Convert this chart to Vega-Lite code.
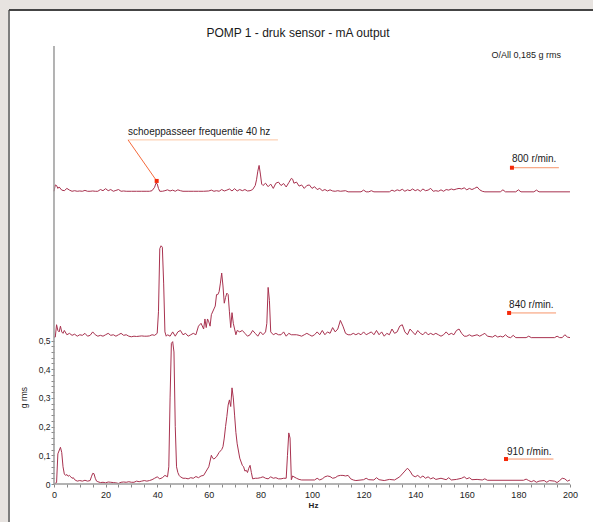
{
  "$schema": "https://vega.github.io/schema/vega-lite/v6.json",
  "width": 584,
  "height": 512,
  "autosize": "none",
  "padding": {"left": 9, "top": 10, "right": 0, "bottom": 0},
  "background": "#e7e3e0",
  "config": {
    "view": {"fill": "white", "stroke": null},
    "font": "Liberation Sans",
    "axis": {"labelOverlap": false}
  },
  "title": {
    "text": "POMP 1 - druk sensor - mA output",
    "font": "Liberation Sans",
    "fontSize": 12,
    "fontWeight": "normal",
    "color": "#1a1a1a",
    "anchor": "middle",
    "frame": "group",
    "baseline": "alphabetic",
    "offset": -40,
    "dx": -3
  },
  "datasets": {
    "spec": [
      {"f":0,"g":1.02,"s":"800"},{"f":0.5,"g":1.042,"s":"800"},{"f":1,"g":1.04,"s":"800"},{"f":1.5,"g":1.03,"s":"800"},{"f":2,"g":1.035,"s":"800"},{"f":3,"g":1.024,"s":"800"},{"f":4,"g":1.022,"s":"800"},{"f":5,"g":1.03,"s":"800"},{"f":6,"g":1.024,"s":"800"},{"f":7,"g":1.02,"s":"800"},{"f":8,"g":1.022,"s":"800"},{"f":9,"g":1.02,"s":"800"},{"f":10,"g":1.021,"s":"800"},{"f":11,"g":1.02,"s":"800"},{"f":12,"g":1.023,"s":"800"},{"f":13,"g":1.02,"s":"800"},{"f":14,"g":1.02,"s":"800"},{"f":15,"g":1.021,"s":"800"},{"f":16,"g":1.02,"s":"800"},{"f":17,"g":1.02,"s":"800"},{"f":18,"g":1.026,"s":"800"},{"f":19,"g":1.022,"s":"800"},{"f":20,"g":1.029,"s":"800"},{"f":21,"g":1.022,"s":"800"},{"f":22,"g":1.026,"s":"800"},{"f":23,"g":1.02,"s":"800"},{"f":24,"g":1.023,"s":"800"},{"f":25,"g":1.026,"s":"800"},{"f":26,"g":1.02,"s":"800"},{"f":27,"g":1.021,"s":"800"},{"f":28,"g":1.02,"s":"800"},{"f":30,"g":1.02,"s":"800"},{"f":32,"g":1.02,"s":"800"},{"f":34,"g":1.02,"s":"800"},{"f":36,"g":1.02,"s":"800"},{"f":37,"g":1.02,"s":"800"},{"f":38,"g":1.022,"s":"800"},{"f":39,"g":1.034,"s":"800"},{"f":39.5,"g":1.048,"s":"800"},{"f":40,"g":1.046,"s":"800"},{"f":40.5,"g":1.03,"s":"800"},{"f":41,"g":1.02,"s":"800"},{"f":42,"g":1.02,"s":"800"},{"f":43,"g":1.022,"s":"800"},{"f":44,"g":1.025,"s":"800"},{"f":45,"g":1.021,"s":"800"},{"f":46,"g":1.024,"s":"800"},{"f":47,"g":1.02,"s":"800"},{"f":48,"g":1.025,"s":"800"},{"f":49,"g":1.022,"s":"800"},{"f":50,"g":1.02,"s":"800"},{"f":52,"g":1.02,"s":"800"},{"f":54,"g":1.02,"s":"800"},{"f":56,"g":1.02,"s":"800"},{"f":58,"g":1.02,"s":"800"},{"f":60,"g":1.021,"s":"800"},{"f":61,"g":1.024,"s":"800"},{"f":62,"g":1.02,"s":"800"},{"f":63,"g":1.022,"s":"800"},{"f":64,"g":1.02,"s":"800"},{"f":65,"g":1.026,"s":"800"},{"f":66,"g":1.021,"s":"800"},{"f":67,"g":1.024,"s":"800"},{"f":68,"g":1.028,"s":"800"},{"f":69,"g":1.021,"s":"800"},{"f":70,"g":1.029,"s":"800"},{"f":71,"g":1.021,"s":"800"},{"f":72,"g":1.026,"s":"800"},{"f":73,"g":1.022,"s":"800"},{"f":74,"g":1.026,"s":"800"},{"f":75,"g":1.021,"s":"800"},{"f":76,"g":1.022,"s":"800"},{"f":77,"g":1.026,"s":"800"},{"f":78,"g":1.04,"s":"800"},{"f":78.5,"g":1.06,"s":"800"},{"f":79,"g":1.09,"s":"800"},{"f":79.5,"g":1.11,"s":"800"},{"f":80,"g":1.08,"s":"800"},{"f":80.5,"g":1.045,"s":"800"},{"f":81,"g":1.04,"s":"800"},{"f":82,"g":1.048,"s":"800"},{"f":83,"g":1.036,"s":"800"},{"f":84,"g":1.045,"s":"800"},{"f":85,"g":1.03,"s":"800"},{"f":86,"g":1.048,"s":"800"},{"f":87,"g":1.052,"s":"800"},{"f":88,"g":1.04,"s":"800"},{"f":89,"g":1.047,"s":"800"},{"f":90,"g":1.035,"s":"800"},{"f":91,"g":1.05,"s":"800"},{"f":92,"g":1.065,"s":"800"},{"f":92.5,"g":1.062,"s":"800"},{"f":93,"g":1.048,"s":"800"},{"f":94,"g":1.052,"s":"800"},{"f":95,"g":1.038,"s":"800"},{"f":96,"g":1.042,"s":"800"},{"f":97,"g":1.03,"s":"800"},{"f":98,"g":1.04,"s":"800"},{"f":99,"g":1.042,"s":"800"},{"f":100,"g":1.03,"s":"800"},{"f":101,"g":1.036,"s":"800"},{"f":102,"g":1.026,"s":"800"},{"f":103,"g":1.03,"s":"800"},{"f":104,"g":1.022,"s":"800"},{"f":105,"g":1.026,"s":"800"},{"f":106,"g":1.021,"s":"800"},{"f":107,"g":1.025,"s":"800"},{"f":108,"g":1.021,"s":"800"},{"f":109,"g":1.02,"s":"800"},{"f":110,"g":1.022,"s":"800"},{"f":111,"g":1.02,"s":"800"},{"f":113,"g":1.022,"s":"800"},{"f":114,"g":1.018,"s":"800"},{"f":119,"g":1.018,"s":"800"},{"f":120,"g":1.024,"s":"800"},{"f":121,"g":1.018,"s":"800"},{"f":122,"g":1.018,"s":"800"},{"f":123,"g":1.022,"s":"800"},{"f":124,"g":1.018,"s":"800"},{"f":130,"g":1.018,"s":"800"},{"f":131,"g":1.024,"s":"800"},{"f":132,"g":1.02,"s":"800"},{"f":133,"g":1.025,"s":"800"},{"f":134,"g":1.022,"s":"800"},{"f":135,"g":1.027,"s":"800"},{"f":136,"g":1.02,"s":"800"},{"f":137,"g":1.025,"s":"800"},{"f":138,"g":1.022,"s":"800"},{"f":139,"g":1.028,"s":"800"},{"f":140,"g":1.022,"s":"800"},{"f":141,"g":1.026,"s":"800"},{"f":142,"g":1.02,"s":"800"},{"f":143,"g":1.028,"s":"800"},{"f":144,"g":1.022,"s":"800"},{"f":145,"g":1.024,"s":"800"},{"f":146,"g":1.03,"s":"800"},{"f":147,"g":1.02,"s":"800"},{"f":148,"g":1.022,"s":"800"},{"f":149,"g":1.02,"s":"800"},{"f":150,"g":1.025,"s":"800"},{"f":151,"g":1.02,"s":"800"},{"f":152,"g":1.026,"s":"800"},{"f":153,"g":1.024,"s":"800"},{"f":154,"g":1.028,"s":"800"},{"f":155,"g":1.025,"s":"800"},{"f":156,"g":1.028,"s":"800"},{"f":157,"g":1.03,"s":"800"},{"f":158,"g":1.028,"s":"800"},{"f":159,"g":1.032,"s":"800"},{"f":160,"g":1.025,"s":"800"},{"f":161,"g":1.03,"s":"800"},{"f":162,"g":1.026,"s":"800"},{"f":163,"g":1.03,"s":"800"},{"f":164,"g":1.035,"s":"800"},{"f":165,"g":1.025,"s":"800"},{"f":166,"g":1.02,"s":"800"},{"f":167,"g":1.018,"s":"800"},{"f":173,"g":1.018,"s":"800"},{"f":174,"g":1.025,"s":"800"},{"f":175,"g":1.018,"s":"800"},{"f":179,"g":1.018,"s":"800"},{"f":180,"g":1.025,"s":"800"},{"f":181,"g":1.018,"s":"800"},{"f":186,"g":1.018,"s":"800"},{"f":187,"g":1.024,"s":"800"},{"f":188,"g":1.018,"s":"800"},{"f":200,"g":1.018,"s":"800"},

      {"f":0,"g":0.512,"s":"840"},{"f":0.5,"g":0.512,"s":"840"},{"f":1,"g":0.555,"s":"840"},{"f":1.5,"g":0.535,"s":"840"},{"f":2,"g":0.53,"s":"840"},{"f":2.5,"g":0.55,"s":"840"},{"f":3,"g":0.53,"s":"840"},{"f":3.5,"g":0.525,"s":"840"},{"f":4,"g":0.535,"s":"840"},{"f":5,"g":0.52,"s":"840"},{"f":6,"g":0.525,"s":"840"},{"f":7,"g":0.518,"s":"840"},{"f":8,"g":0.522,"s":"840"},{"f":9,"g":0.515,"s":"840"},{"f":10,"g":0.52,"s":"840"},{"f":11,"g":0.518,"s":"840"},{"f":12,"g":0.525,"s":"840"},{"f":13,"g":0.515,"s":"840"},{"f":14,"g":0.518,"s":"840"},{"f":15,"g":0.53,"s":"840"},{"f":16,"g":0.52,"s":"840"},{"f":17,"g":0.515,"s":"840"},{"f":18,"g":0.518,"s":"840"},{"f":19,"g":0.515,"s":"840"},{"f":20,"g":0.52,"s":"840"},{"f":21,"g":0.525,"s":"840"},{"f":22,"g":0.518,"s":"840"},{"f":23,"g":0.52,"s":"840"},{"f":24,"g":0.515,"s":"840"},{"f":25,"g":0.52,"s":"840"},{"f":26,"g":0.525,"s":"840"},{"f":27,"g":0.518,"s":"840"},{"f":28,"g":0.52,"s":"840"},{"f":29,"g":0.515,"s":"840"},{"f":30,"g":0.513,"s":"840"},{"f":31,"g":0.515,"s":"840"},{"f":32,"g":0.514,"s":"840"},{"f":33,"g":0.515,"s":"840"},{"f":34,"g":0.516,"s":"840"},{"f":35,"g":0.515,"s":"840"},{"f":36,"g":0.515,"s":"840"},{"f":37,"g":0.516,"s":"840"},{"f":38,"g":0.52,"s":"840"},{"f":39,"g":0.518,"s":"840"},{"f":40,"g":0.525,"s":"840"},{"f":40.5,"g":0.6,"s":"840"},{"f":41,"g":0.82,"s":"840"},{"f":41.5,"g":0.83,"s":"840"},{"f":42,"g":0.825,"s":"840"},{"f":42.5,"g":0.7,"s":"840"},{"f":43,"g":0.53,"s":"840"},{"f":43.5,"g":0.515,"s":"840"},{"f":44,"g":0.52,"s":"840"},{"f":45,"g":0.515,"s":"840"},{"f":46,"g":0.53,"s":"840"},{"f":47,"g":0.515,"s":"840"},{"f":48,"g":0.53,"s":"840"},{"f":49,"g":0.535,"s":"840"},{"f":50,"g":0.52,"s":"840"},{"f":51,"g":0.525,"s":"840"},{"f":52,"g":0.515,"s":"840"},{"f":53,"g":0.52,"s":"840"},{"f":54,"g":0.525,"s":"840"},{"f":55,"g":0.52,"s":"840"},{"f":56,"g":0.55,"s":"840"},{"f":57,"g":0.56,"s":"840"},{"f":58,"g":0.54,"s":"840"},{"f":58.5,"g":0.575,"s":"840"},{"f":59,"g":0.545,"s":"840"},{"f":59.5,"g":0.575,"s":"840"},{"f":60,"g":0.565,"s":"840"},{"f":60.5,"g":0.55,"s":"840"},{"f":61,"g":0.59,"s":"840"},{"f":62,"g":0.61,"s":"840"},{"f":62.5,"g":0.62,"s":"840"},{"f":63,"g":0.66,"s":"840"},{"f":63.5,"g":0.66,"s":"840"},{"f":64,"g":0.67,"s":"840"},{"f":64.5,"g":0.7,"s":"840"},{"f":65,"g":0.735,"s":"840"},{"f":65.5,"g":0.69,"s":"840"},{"f":66,"g":0.63,"s":"840"},{"f":66.5,"g":0.65,"s":"840"},{"f":67,"g":0.665,"s":"840"},{"f":67.5,"g":0.66,"s":"840"},{"f":68,"g":0.6,"s":"840"},{"f":68.5,"g":0.545,"s":"840"},{"f":69,"g":0.597,"s":"840"},{"f":69.5,"g":0.56,"s":"840"},{"f":70,"g":0.54,"s":"840"},{"f":70.5,"g":0.52,"s":"840"},{"f":71,"g":0.535,"s":"840"},{"f":72,"g":0.53,"s":"840"},{"f":73,"g":0.535,"s":"840"},{"f":74,"g":0.525,"s":"840"},{"f":75,"g":0.515,"s":"840"},{"f":76,"g":0.52,"s":"840"},{"f":77,"g":0.535,"s":"840"},{"f":78,"g":0.525,"s":"840"},{"f":79,"g":0.515,"s":"840"},{"f":80,"g":0.53,"s":"840"},{"f":81,"g":0.52,"s":"840"},{"f":82,"g":0.53,"s":"840"},{"f":82.5,"g":0.56,"s":"840"},{"f":83,"g":0.685,"s":"840"},{"f":83.5,"g":0.64,"s":"840"},{"f":84,"g":0.53,"s":"840"},{"f":85,"g":0.52,"s":"840"},{"f":86,"g":0.525,"s":"840"},{"f":87,"g":0.52,"s":"840"},{"f":88,"g":0.52,"s":"840"},{"f":89,"g":0.53,"s":"840"},{"f":90,"g":0.515,"s":"840"},{"f":91,"g":0.525,"s":"840"},{"f":92,"g":0.52,"s":"840"},{"f":93,"g":0.52,"s":"840"},{"f":94,"g":0.52,"s":"840"},{"f":95,"g":0.518,"s":"840"},{"f":96,"g":0.515,"s":"840"},{"f":97,"g":0.52,"s":"840"},{"f":98,"g":0.525,"s":"840"},{"f":99,"g":0.52,"s":"840"},{"f":100,"g":0.515,"s":"840"},{"f":101,"g":0.52,"s":"840"},{"f":102,"g":0.53,"s":"840"},{"f":103,"g":0.52,"s":"840"},{"f":104,"g":0.535,"s":"840"},{"f":105,"g":0.52,"s":"840"},{"f":106,"g":0.53,"s":"840"},{"f":107,"g":0.525,"s":"840"},{"f":108,"g":0.545,"s":"840"},{"f":109,"g":0.53,"s":"840"},{"f":110,"g":0.54,"s":"840"},{"f":111,"g":0.57,"s":"840"},{"f":112,"g":0.55,"s":"840"},{"f":113,"g":0.525,"s":"840"},{"f":114,"g":0.52,"s":"840"},{"f":115,"g":0.52,"s":"840"},{"f":116,"g":0.525,"s":"840"},{"f":117,"g":0.52,"s":"840"},{"f":118,"g":0.525,"s":"840"},{"f":119,"g":0.52,"s":"840"},{"f":120,"g":0.53,"s":"840"},{"f":121,"g":0.52,"s":"840"},{"f":122,"g":0.525,"s":"840"},{"f":123,"g":0.53,"s":"840"},{"f":124,"g":0.52,"s":"840"},{"f":125,"g":0.535,"s":"840"},{"f":126,"g":0.52,"s":"840"},{"f":127,"g":0.53,"s":"840"},{"f":128,"g":0.515,"s":"840"},{"f":129,"g":0.525,"s":"840"},{"f":130,"g":0.52,"s":"840"},{"f":131,"g":0.54,"s":"840"},{"f":132,"g":0.525,"s":"840"},{"f":133,"g":0.53,"s":"840"},{"f":134,"g":0.55,"s":"840"},{"f":135,"g":0.555,"s":"840"},{"f":136,"g":0.53,"s":"840"},{"f":137,"g":0.52,"s":"840"},{"f":138,"g":0.54,"s":"840"},{"f":139,"g":0.53,"s":"840"},{"f":140,"g":0.52,"s":"840"},{"f":141,"g":0.535,"s":"840"},{"f":142,"g":0.525,"s":"840"},{"f":143,"g":0.52,"s":"840"},{"f":144,"g":0.53,"s":"840"},{"f":145,"g":0.52,"s":"840"},{"f":146,"g":0.525,"s":"840"},{"f":147,"g":0.52,"s":"840"},{"f":148,"g":0.525,"s":"840"},{"f":149,"g":0.52,"s":"840"},{"f":150,"g":0.515,"s":"840"},{"f":151,"g":0.52,"s":"840"},{"f":152,"g":0.53,"s":"840"},{"f":153,"g":0.52,"s":"840"},{"f":154,"g":0.525,"s":"840"},{"f":155,"g":0.52,"s":"840"},{"f":156,"g":0.535,"s":"840"},{"f":157,"g":0.54,"s":"840"},{"f":158,"g":0.525,"s":"840"},{"f":159,"g":0.515,"s":"840"},{"f":160,"g":0.515,"s":"840"},{"f":161,"g":0.52,"s":"840"},{"f":162,"g":0.515,"s":"840"},{"f":164,"g":0.52,"s":"840"},{"f":165,"g":0.515,"s":"840"},{"f":166,"g":0.52,"s":"840"},{"f":167,"g":0.525,"s":"840"},{"f":168,"g":0.515,"s":"840"},{"f":170,"g":0.512,"s":"840"},{"f":171,"g":0.518,"s":"840"},{"f":172,"g":0.512,"s":"840"},{"f":173,"g":0.515,"s":"840"},{"f":174,"g":0.512,"s":"840"},{"f":175,"g":0.52,"s":"840"},{"f":176,"g":0.512,"s":"840"},{"f":177,"g":0.51,"s":"840"},{"f":178,"g":0.518,"s":"840"},{"f":179,"g":0.51,"s":"840"},{"f":183,"g":0.51,"s":"840"},{"f":184,"g":0.515,"s":"840"},{"f":185,"g":0.51,"s":"840"},{"f":194,"g":0.51,"s":"840"},{"f":195,"g":0.515,"s":"840"},{"f":196,"g":0.51,"s":"840"},{"f":197,"g":0.51,"s":"840"},{"f":198,"g":0.52,"s":"840"},{"f":199,"g":0.512,"s":"840"},{"f":200,"g":0.51,"s":"840"},

      {"f":0.4,"g":0.002,"s":"910"},{"f":1,"g":0.005,"s":"910"},{"f":1.5,"g":0.105,"s":"910"},{"f":2.5,"g":0.128,"s":"910"},{"f":3,"g":0.11,"s":"910"},{"f":3.5,"g":0.06,"s":"910"},{"f":4,"g":0.035,"s":"910"},{"f":4.5,"g":0.03,"s":"910"},{"f":5,"g":0.033,"s":"910"},{"f":5.5,"g":0.027,"s":"910"},{"f":6,"g":0.03,"s":"910"},{"f":6.5,"g":0.025,"s":"910"},{"f":7,"g":0.02,"s":"910"},{"f":7.5,"g":0.022,"s":"910"},{"f":8,"g":0.015,"s":"910"},{"f":9,"g":0.01,"s":"910"},{"f":10,"g":0.012,"s":"910"},{"f":11,"g":0.01,"s":"910"},{"f":12,"g":0.013,"s":"910"},{"f":13,"g":0.01,"s":"910"},{"f":14,"g":0.012,"s":"910"},{"f":14.5,"g":0.025,"s":"910"},{"f":15,"g":0.037,"s":"910"},{"f":15.5,"g":0.036,"s":"910"},{"f":16,"g":0.02,"s":"910"},{"f":16.5,"g":0.01,"s":"910"},{"f":17,"g":0.008,"s":"910"},{"f":18,"g":0.005,"s":"910"},{"f":19,"g":0.006,"s":"910"},{"f":20,"g":0.004,"s":"910"},{"f":21,"g":0.007,"s":"910"},{"f":22,"g":0.006,"s":"910"},{"f":23,"g":0.005,"s":"910"},{"f":24,"g":0.004,"s":"910"},{"f":25,"g":0.002,"s":"910"},{"f":26,"g":0.006,"s":"910"},{"f":27,"g":0.007,"s":"910"},{"f":28,"g":0.006,"s":"910"},{"f":29,"g":0.008,"s":"910"},{"f":30,"g":0.006,"s":"910"},{"f":31,"g":0.006,"s":"910"},{"f":32,"g":0.01,"s":"910"},{"f":33,"g":0.008,"s":"910"},{"f":34,"g":0.01,"s":"910"},{"f":35,"g":0.012,"s":"910"},{"f":36,"g":0.01,"s":"910"},{"f":37,"g":0.012,"s":"910"},{"f":38,"g":0.015,"s":"910"},{"f":39,"g":0.02,"s":"910"},{"f":40,"g":0.025,"s":"910"},{"f":41,"g":0.018,"s":"910"},{"f":42,"g":0.022,"s":"910"},{"f":43,"g":0.03,"s":"910"},{"f":44,"g":0.025,"s":"910"},{"f":44.5,"g":0.06,"s":"910"},{"f":45,"g":0.3,"s":"910"},{"f":45.5,"g":0.49,"s":"910"},{"f":46,"g":0.496,"s":"910"},{"f":46.5,"g":0.46,"s":"910"},{"f":47,"g":0.2,"s":"910"},{"f":47.5,"g":0.06,"s":"910"},{"f":48,"g":0.04,"s":"910"},{"f":48.5,"g":0.03,"s":"910"},{"f":49,"g":0.025,"s":"910"},{"f":50,"g":0.02,"s":"910"},{"f":51,"g":0.02,"s":"910"},{"f":52,"g":0.018,"s":"910"},{"f":53,"g":0.022,"s":"910"},{"f":54,"g":0.02,"s":"910"},{"f":55,"g":0.026,"s":"910"},{"f":56,"g":0.022,"s":"910"},{"f":57,"g":0.028,"s":"910"},{"f":58,"g":0.03,"s":"910"},{"f":59,"g":0.045,"s":"910"},{"f":60,"g":0.06,"s":"910"},{"f":60.5,"g":0.08,"s":"910"},{"f":61,"g":0.1,"s":"910"},{"f":61.5,"g":0.09,"s":"910"},{"f":62,"g":0.087,"s":"910"},{"f":63,"g":0.095,"s":"910"},{"f":64,"g":0.11,"s":"910"},{"f":65,"g":0.12,"s":"910"},{"f":65.5,"g":0.13,"s":"910"},{"f":66,"g":0.16,"s":"910"},{"f":66.5,"g":0.2,"s":"910"},{"f":67,"g":0.235,"s":"910"},{"f":67.5,"g":0.275,"s":"910"},{"f":68,"g":0.293,"s":"910"},{"f":68.5,"g":0.27,"s":"910"},{"f":69,"g":0.335,"s":"910"},{"f":69.5,"g":0.3,"s":"910"},{"f":70,"g":0.24,"s":"910"},{"f":70.5,"g":0.18,"s":"910"},{"f":71,"g":0.14,"s":"910"},{"f":72,"g":0.09,"s":"910"},{"f":73,"g":0.065,"s":"910"},{"f":73.5,"g":0.06,"s":"910"},{"f":74,"g":0.045,"s":"910"},{"f":74.5,"g":0.048,"s":"910"},{"f":75,"g":0.04,"s":"910"},{"f":75.5,"g":0.055,"s":"910"},{"f":76,"g":0.065,"s":"910"},{"f":76.5,"g":0.04,"s":"910"},{"f":77,"g":0.018,"s":"910"},{"f":78,"g":0.02,"s":"910"},{"f":79,"g":0.02,"s":"910"},{"f":80,"g":0.022,"s":"910"},{"f":81,"g":0.025,"s":"910"},{"f":82,"g":0.02,"s":"910"},{"f":83,"g":0.018,"s":"910"},{"f":84,"g":0.025,"s":"910"},{"f":85,"g":0.02,"s":"910"},{"f":86,"g":0.022,"s":"910"},{"f":87,"g":0.018,"s":"910"},{"f":88,"g":0.018,"s":"910"},{"f":89,"g":0.02,"s":"910"},{"f":90,"g":0.02,"s":"910"},{"f":90.5,"g":0.1,"s":"910"},{"f":91,"g":0.178,"s":"910"},{"f":91.5,"g":0.16,"s":"910"},{"f":92,"g":0.015,"s":"910"},{"f":92.5,"g":0.028,"s":"910"},{"f":93,"g":0.025,"s":"910"},{"f":94,"g":0.02,"s":"910"},{"f":95,"g":0.016,"s":"910"},{"f":96,"g":0.014,"s":"910"},{"f":101,"g":0.014,"s":"910"},{"f":102,"g":0.02,"s":"910"},{"f":103,"g":0.014,"s":"910"},{"f":104,"g":0.018,"s":"910"},{"f":105,"g":0.025,"s":"910"},{"f":106,"g":0.028,"s":"910"},{"f":107,"g":0.026,"s":"910"},{"f":108,"g":0.02,"s":"910"},{"f":109,"g":0.022,"s":"910"},{"f":110,"g":0.028,"s":"910"},{"f":111,"g":0.03,"s":"910"},{"f":112,"g":0.03,"s":"910"},{"f":113,"g":0.028,"s":"910"},{"f":114,"g":0.03,"s":"910"},{"f":115,"g":0.018,"s":"910"},{"f":116,"g":0.014,"s":"910"},{"f":117,"g":0.012,"s":"910"},{"f":120,"g":0.015,"s":"910"},{"f":121,"g":0.02,"s":"910"},{"f":122,"g":0.015,"s":"910"},{"f":124,"g":0.014,"s":"910"},{"f":125,"g":0.022,"s":"910"},{"f":126,"g":0.015,"s":"910"},{"f":128,"g":0.012,"s":"910"},{"f":130,"g":0.016,"s":"910"},{"f":132,"g":0.014,"s":"910"},{"f":134,"g":0.025,"s":"910"},{"f":135,"g":0.035,"s":"910"},{"f":136,"g":0.045,"s":"910"},{"f":137,"g":0.055,"s":"910"},{"f":138,"g":0.045,"s":"910"},{"f":139,"g":0.03,"s":"910"},{"f":140,"g":0.025,"s":"910"},{"f":141,"g":0.03,"s":"910"},{"f":142,"g":0.022,"s":"910"},{"f":143,"g":0.028,"s":"910"},{"f":144,"g":0.02,"s":"910"},{"f":145,"g":0.025,"s":"910"},{"f":146,"g":0.018,"s":"910"},{"f":147,"g":0.022,"s":"910"},{"f":148,"g":0.016,"s":"910"},{"f":150,"g":0.02,"s":"910"},{"f":152,"g":0.015,"s":"910"},{"f":153,"g":0.022,"s":"910"},{"f":154,"g":0.014,"s":"910"},{"f":156,"g":0.016,"s":"910"},{"f":158,"g":0.02,"s":"910"},{"f":159,"g":0.025,"s":"910"},{"f":160,"g":0.018,"s":"910"},{"f":161,"g":0.022,"s":"910"},{"f":162,"g":0.015,"s":"910"},{"f":164,"g":0.016,"s":"910"},{"f":166,"g":0.014,"s":"910"},{"f":167,"g":0.018,"s":"910"},{"f":168,"g":0.013,"s":"910"},{"f":182,"g":0.013,"s":"910"},{"f":183,"g":0.017,"s":"910"},{"f":184,"g":0.012,"s":"910"},{"f":185,"g":0.008,"s":"910"},{"f":186,"g":0.012,"s":"910"},{"f":187,"g":0.006,"s":"910"},{"f":188,"g":0.01,"s":"910"},{"f":190,"g":0.012,"s":"910"},{"f":191,"g":0.006,"s":"910"},{"f":192,"g":0.012,"s":"910"},{"f":194,"g":0.01,"s":"910"},{"f":195,"g":0.005,"s":"910"},{"f":196,"g":0.012,"s":"910"},{"f":197,"g":0.02,"s":"910"},{"f":198,"g":0.018,"s":"910"},{"f":199,"g":0.01,"s":"910"},{"f":200,"g":0.014,"s":"910"}
    ],
    "underline": [{"f":28.7,"f2":86.8,"g":1.199,"g2":1.199}],
    "leader": [{"f":28.7,"f2":39.8,"g":1.199,"g2":1.056}],
    "rpmlines": [
      {"f":177.5,"f2":195.7,"g":1.102,"g2":1.102},
      {"f":176.4,"f2":194.6,"g":0.596,"g2":0.596},
      {"f":175.2,"f2":193.6,"g":0.087,"g2":0.087}
    ],
    "markers": [
      {"f":39.8,"g":1.056},
      {"f":177.5,"g":1.102},
      {"f":176.4,"g":0.596},
      {"f":175.2,"g":0.087}
    ],
    "notes": [
      {"label":"schoeppasseer frequentie 40 hz","f":28.7,"g":1.226},
      {"label":"800 r/min.","f":177.5,"g":1.132},
      {"label":"840 r/min.","f":176.4,"g":0.624},
      {"label":"910 r/min.","f":175.6,"g":0.110}
    ],
    "overall": [
      {"label":"O/All 0,185 g rms","f":196.5,"g":1.495}
    ],
    "frameleft": [{"f":-17.44,"f2":-17.44,"g":-0.1324,"g2":1.6516}],
    "frametop": [{"f":-17.44,"f2":208.92,"g":1.6516,"g2":1.6516}],
    "axislines": [
      {"f":0,"f2":0,"g":0,"g2":1.526},
      {"f":0,"f2":200,"g":0,"g2":0}
    ]
  },
  "encoding": {
    "x": {
      "field": "f", "type": "quantitative",
      "scale": {"domain": [-17.44, 208.92], "nice": false, "zero": false},
      "axis": {
        "orient": "bottom", "offset": -38, "domain": false, "grid": false,
        "values": [0,5,10,15,20,25,30,35,40,45,50,55,60,65,70,75,80,85,90,95,100,105,110,115,120,125,130,135,140,145,150,155,160,165,170,175,180,185,190,195,200],
        "labelExpr": "datum.value % 20 == 0 ? datum.label : ''",
        "labelOverlap": false, "labelFlush": false, "labelBound": false,
        "tickSize": 3, "tickColor": "#8a8a8a", "tickWidth": 1,
        "labelFont": "Liberation Sans", "labelFontSize": 9, "labelColor": "#222", "labelPadding": 3,
        "title": "Hz", "titleFont": "Liberation Sans", "titleFontSize": 8, "titleFontWeight": "bold", "titleColor": "#222",
        "titleX": 304, "titleY": 21, "titleAlign": "center", "titleBaseline": "middle"
      }
    },
    "y": {
      "field": "g", "type": "quantitative",
      "scale": {"domain": [-0.1324, 1.6516], "nice": false, "zero": false},
      "axis": {
        "orient": "left", "offset": -45, "domain": false, "grid": false,
        "values": [0,0.02,0.04,0.06,0.08,0.1,0.12,0.14,0.16,0.18,0.2,0.22,0.24,0.26,0.28,0.3,0.32,0.34,0.36,0.38,0.4,0.42,0.44,0.46,0.48,0.5],
        "labelExpr": "datum.value == 0 ? '0' : (round(datum.value*50) % 5 == 0 ? replace(format(datum.value, '.1f'), '.', ',') : '')",
        "labelOverlap": false, "labelFlush": false, "labelBound": false,
        "tickSize": 3, "tickColor": "#8a8a8a", "tickWidth": 1,
        "labelFont": "Liberation Sans", "labelFontSize": 8.5, "labelColor": "#222", "labelPadding": 1,
        "title": "g rms", "titleFont": "Liberation Sans", "titleFontSize": 8.5, "titleFontWeight": "normal", "titleColor": "#222",
        "titleAngle": -90, "titleX": -31, "titleY": 387, "titleAlign": "center", "titleBaseline": "middle"
      }
    }
  },
  "layer": [
    {
      "data": {"name": "frameleft"},
      "mark": {"type": "rule", "strokeWidth": 2, "color": "#7d7d7d"},
      "encoding": {"x2": {"field": "f2"}, "y2": {"field": "g2"}}
    },
    {
      "data": {"name": "frametop"},
      "mark": {"type": "rule", "strokeWidth": 2, "color": "#444444"},
      "encoding": {"x2": {"field": "f2"}, "y2": {"field": "g2"}}
    },
    {
      "data": {"name": "spec"},
      "mark": {"type": "line", "color": "#a8324f", "strokeWidth": 1, "interpolate": "linear"},
      "encoding": {"detail": {"field": "s", "type": "nominal"}}
    },
    {
      "data": {"name": "axislines"},
      "mark": {"type": "rule", "color": "#9a9a9a", "strokeWidth": 1.5},
      "encoding": {"x2": {"field": "f2"}, "y2": {"field": "g2"}}
    },
    {
      "data": {"name": "underline"},
      "mark": {"type": "rule", "strokeWidth": 1, "color": "#fcc6a4"},
      "encoding": {"x2": {"field": "f2"}, "y2": {"field": "g2"}}
    },
    {
      "data": {"name": "leader"},
      "mark": {"type": "rule", "strokeWidth": 1, "color": "#f56a3c"},
      "encoding": {"x2": {"field": "f2"}, "y2": {"field": "g2"}}
    },
    {
      "data": {"name": "rpmlines"},
      "mark": {"type": "rule", "strokeWidth": 1, "color": "#f7946a"},
      "encoding": {"x2": {"field": "f2"}, "y2": {"field": "g2"}}
    },
    {
      "data": {"name": "markers"},
      "mark": {"type": "square", "color": "#f52a0a", "opacity": 1, "size": 16},
      "encoding": {}
    },
    {
      "data": {"name": "notes"},
      "mark": {"type": "text", "align": "left", "baseline": "middle", "font": "Liberation Sans", "fontSize": 10, "color": "#1a1a1a"},
      "encoding": {"text": {"field": "label"}}
    },
    {
      "data": {"name": "overall"},
      "mark": {"type": "text", "align": "right", "baseline": "middle", "font": "Liberation Sans", "fontSize": 9, "color": "#1a1a1a"},
      "encoding": {"text": {"field": "label"}}
    }
  ]
}
